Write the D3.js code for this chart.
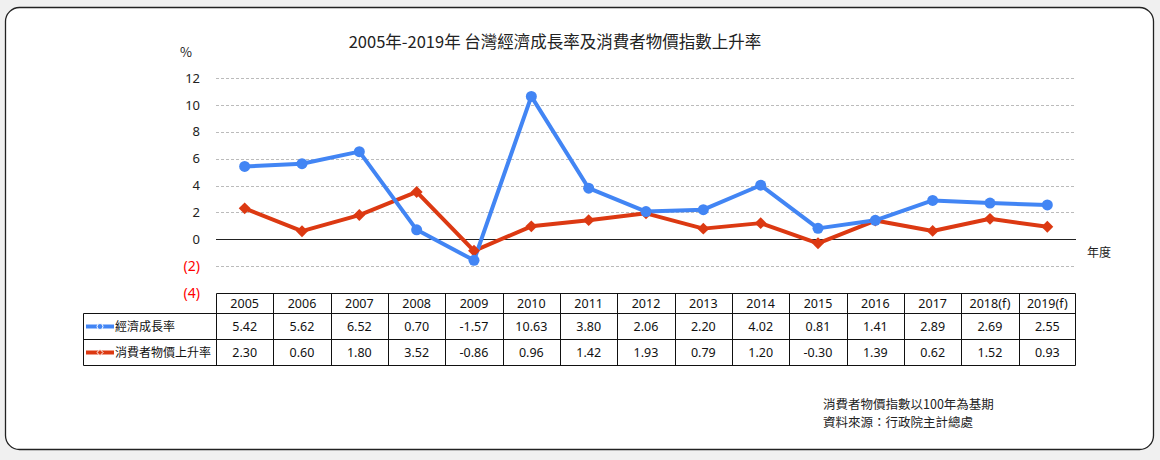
<!DOCTYPE html>
<html><head><meta charset="utf-8">
<script src="https://cdn.jsdelivr.net/npm/d3@7"></script>
<style>
body{margin:0;background:#f0f0f0;}
svg{display:block;font-family:"Noto Sans CJK TC","Noto Sans",sans-serif;}
</style></head><body>
<svg id="c" width="1160" height="460"></svg>
<script>
const years = ["2005","2006","2007","2008","2009","2010","2011","2012","2013","2014","2015","2016","2017","2018(f)","2019(f)"];
const gdpGrowth = [5.42,5.62,6.52,0.70,-1.57,10.63,3.80,2.06,2.20,4.02,0.81,1.41,2.89,2.69,2.55];
const cpiGrowth = [2.30,0.60,1.80,3.52,-0.86,0.96,1.42,1.93,0.79,1.20,-0.30,1.39,0.62,1.52,0.93];
const seriesNames = ["經濟成長率","消費者物價上升率"];
const yTicks = [-4,-2,0,2,4,6,8,10,12];
const title = "2005年-2019年 台灣經濟成長率及消費者物價指數上升率";
const notes = ["消費者物價指數以100年為基期","資料來源：行政院主計總處"];

const svg = d3.select("#c");
svg.append("rect").attr("x",5.5).attr("y",7.5).attr("width",1148).attr("height",442)
  .attr("rx",14).attr("fill","#fff").attr("stroke","#222").attr("stroke-width",1.3);

const blue="#4285F4", red="#DC3912";
const x = d3.scaleBand().domain(years).range([216,1076]);
const y = d3.scaleLinear().domain([-4,12]).range([293,78]);

svg.append("text").attr("x",555).attr("y",48).attr("text-anchor","middle")
  .attr("font-size",16.5).attr("fill","#222").text(title);
svg.append("text").attr("x",186).attr("y",57).attr("text-anchor","middle")
  .attr("font-size",13).attr("fill","#222").text("%");

// grid
yTicks.filter(t=>t!==0 && t!==-4).forEach(t=>{
  svg.append("line").attr("x1",216).attr("x2",1076).attr("y1",Math.round(y(t))+0.5).attr("y2",Math.round(y(t))+0.5)
    .attr("stroke","#bbb").attr("stroke-dasharray","3,2").attr("stroke-width",1);
});
svg.append("line").attr("x1",216).attr("x2",1076).attr("y1",Math.round(y(0))+0.5).attr("y2",Math.round(y(0))+0.5)
  .attr("stroke","#222").attr("stroke-width",1.2);

// y axis labels
const yAxis = d3.axisLeft(y).tickValues(yTicks).tickSize(0)
  .tickFormat(d=> d<0 ? "("+(-d)+")" : d);
const ga = svg.append("g").attr("transform","translate(203,0)").call(yAxis);
ga.select(".domain").remove();
ga.selectAll("text").attr("font-size",d=>d<0?14:13).attr("font-family","'Noto Sans','Noto Sans CJK TC',sans-serif")
  .attr("fill",d=>d<0?"#f00":"#222");

svg.append("text").attr("x",1099).attr("y",257).attr("text-anchor","middle")
  .attr("font-size",12).attr("fill","#222").text("年度");

// lines
const line = d3.line().x((d,i)=>x(years[i])+x.bandwidth()/2).y(d=>y(d));
svg.append("path").datum(cpiGrowth).attr("d",line).attr("fill","none").attr("stroke",red).attr("stroke-width",4).attr("stroke-linejoin","round");
svg.append("path").datum(gdpGrowth).attr("d",line).attr("fill","none").attr("stroke",blue).attr("stroke-width",4).attr("stroke-linejoin","round");
const diamond = d3.symbol().type(d3.symbolDiamond2).size(90);
svg.selectAll(".cpt").data(cpiGrowth).enter().append("path")
  .attr("transform",(d,i)=>`translate(${x(years[i])+x.bandwidth()/2},${y(d)})`)
  .attr("d",diamond).attr("fill",red);
svg.selectAll(".gpt").data(gdpGrowth).enter().append("circle")
  .attr("cx",(d,i)=>x(years[i])+x.bandwidth()/2).attr("cy",d=>y(d)).attr("r",5.5).attr("fill",blue);

// table
const rowY=[293.5,313.5,339.5,365.5];
const tg = svg.append("g").attr("stroke","#111").attr("stroke-width",1).attr("fill","none");
tg.append("line").attr("x1",216.5).attr("x2",1075.5).attr("y1",rowY[0]).attr("y2",rowY[0]);
[1,2,3].forEach(k=>tg.append("line").attr("x1",83.5).attr("x2",1075.5).attr("y1",rowY[k]).attr("y2",rowY[k]));
tg.append("line").attr("x1",83.5).attr("x2",83.5).attr("y1",rowY[1]).attr("y2",rowY[3]);
years.forEach((yr,i)=>{
  const xx=Math.round(x(yr))+0.5;
  tg.append("line").attr("x1",xx).attr("x2",xx).attr("y1",rowY[0]).attr("y2",rowY[3]);
});
tg.append("line").attr("x1",1075.5).attr("x2",1075.5).attr("y1",rowY[0]).attr("y2",rowY[3]);

const fmt = v => d3.format(".2f")(v).replace("\u2212","-");
const tf = "'Noto Sans','Noto Sans CJK TC',sans-serif";
years.forEach((yr,i)=>{
  const cx = x(yr)+x.bandwidth()/2;
  svg.append("text").attr("x",cx).attr("y",308).attr("text-anchor","middle").attr("font-size",12.5).attr("font-family",tf).attr("fill","#111").text(yr);
  svg.append("text").attr("x",cx).attr("y",331).attr("text-anchor","middle").attr("font-size",12.5).attr("font-family",tf).attr("fill","#111").text(fmt(gdpGrowth[i]));
  svg.append("text").attr("x",cx).attr("y",357).attr("text-anchor","middle").attr("font-size",12.5).attr("font-family",tf).attr("fill","#111").text(fmt(cpiGrowth[i]));
});
// legend keys
[[blue,326.5,"c"],[red,352.5,"d"]].forEach(([col,yy,t],k)=>{
  svg.append("line").attr("x1",86).attr("x2",114).attr("y1",yy).attr("y2",yy).attr("stroke",col).attr("stroke-width",4);
  if(t==="c") svg.append("circle").attr("cx",100).attr("cy",yy).attr("r",3).attr("fill",col).attr("stroke","#fff").attr("stroke-width",1);
  else svg.append("path").attr("transform",`translate(100,${yy})`).attr("d",d3.symbol().type(d3.symbolDiamond2).size(24)).attr("fill",col).attr("stroke","#fff").attr("stroke-width",1);
  svg.append("text").attr("x",115).attr("y",yy+4.5).attr("font-size",12).attr("fill","#111").text(seriesNames[k]);
});

notes.forEach((n,i)=>svg.append("text").attr("x",823).attr("y",409+i*17.5).attr("font-size",12.5).attr("fill","#222").text(n));
</script></body></html>
